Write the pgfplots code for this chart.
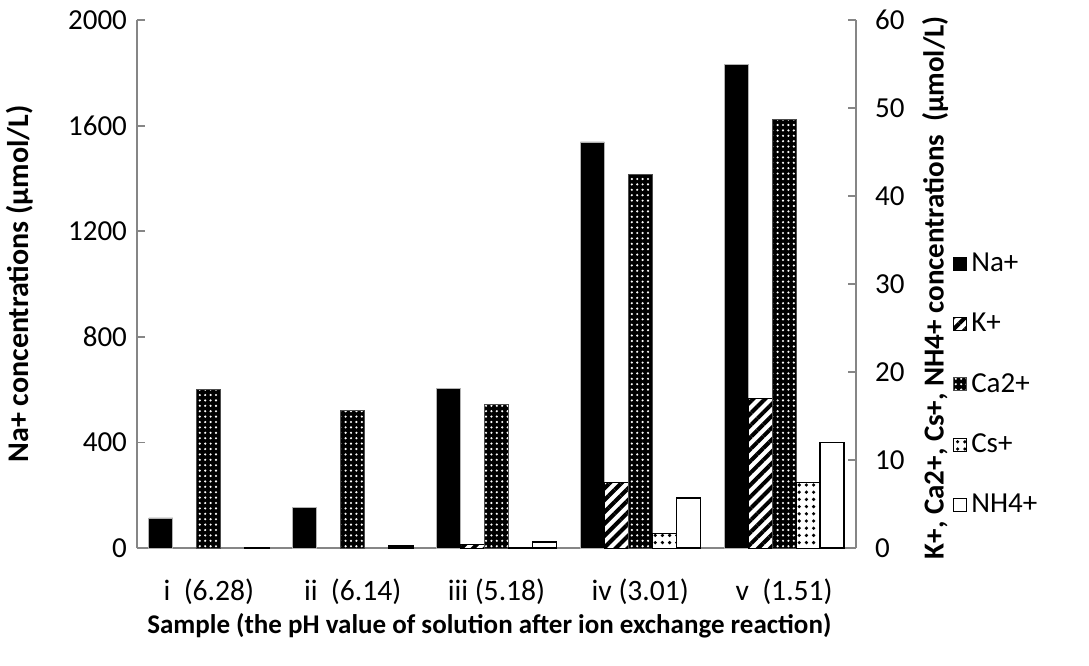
\documentclass[border=0pt]{standalone}
\usepackage{fontspec}
\setmainfont{Carlito}
\usepackage{pgfplots}
\pgfplotsset{compat=1.18}
\usetikzlibrary{patterns,patterns.meta}
\definecolor{axgray}{HTML}{868686}
\pgfplotsset{
  common/.style={
    width=359.5pt, height=264pt, scale only axis,
    xmin=-0.5, xmax=4.5, ymin=0,
    ybar, bar width=0.167,
    axis line style={axgray, line width=0.9pt},
    tick style={axgray, line width=0.9pt},
    major tick length=4pt,
    tick align=inside,
    /pgf/number format/assume math mode=true,
    tick label style={font=\fontsize{14.5}{16}\selectfont, black},
    scaled y ticks=false,
    /pgf/number format/1000 sep={},
  },
}
\begin{document}
\begin{tikzpicture}
\begin{axis}[common, name=a,
  ymax=2000, ytick={0,400,...,2000},
  axis y line*=left, axis x line*=bottom,
  xtick={0,1,2,3,4},
  xticklabels={{i\ \ (6.28)},{ii\ \ (6.14)},{iii (5.18)},{iv (3.01)},{v\ \ (1.51)}},
  xtick style={draw=none},
  xticklabel style={yshift=-12pt, font=\fontsize{14.8}{16}\selectfont},
  yticklabel style={xshift=-1.5pt},
  ylabel={Na+ concentrations (μmol/L)},
  ylabel style={at={(axis description cs:-0.163,0.5)}, anchor=center, font=\bfseries\fontsize{15}{17}\selectfont},
  xlabel={Sample (the pH value of solution after ion exchange reaction)},
  xlabel style={at={(axis description cs:0.49,-0.148)}, anchor=center, font=\bfseries\fontsize{13.5}{16}\selectfont},
]
\addplot[bar shift=-0.334, fill=black, draw=gray!60] coordinates {(0,114) (1,152) (2,606) (3,1538) (4,1831)};
\end{axis}
\begin{axis}[common,
  ymax=60, ytick={0,10,...,60},
  axis y line*=right, axis x line=none,
  yticklabel style={xshift=6pt},
  ylabel={K+, Ca2+, Cs+, NH4+ concentrations\ \ (μmol/L)},
  ylabel style={at={(axis description cs:1.11,0.493)}, anchor=center, font=\bfseries\fontsize{14.5}{16}\selectfont},
  legend cell align=left,
  legend image code/.code={\draw[#1, line width=0.5pt] (0pt,-3.2pt) rectangle (6.4pt,3.2pt);},
  legend style={draw=none, fill=none, at={(axis description cs:1.135,0.31)}, anchor=west,
    font=\fontsize{14.5}{16}\selectfont, row sep=15.3pt, inner sep=0pt,
    /tikz/every even column/.append style={column sep=2pt}},
]
\addlegendimage{fill=black, draw=black}
\addlegendentry{Na+}
\addplot[bar shift=-0.167, fill=white, draw=black, line width=0.5pt,
  postaction={pattern={Lines[angle=45,distance=4.2pt,line width=2pt]}}]
  coordinates {(2,0.45) (3,7.4) (4,17.0)};
\addlegendentry{K+}
\addplot[bar shift=0, fill=black, draw=black!70, line width=0.5pt,
  postaction={pattern={Dots[distance=2.7pt,radius=0.6pt]}, pattern color=white}]
  coordinates {(0,18.0) (1,15.6) (2,16.3) (3,42.5) (4,48.75)};
\addlegendentry{Ca2+}
\addplot[bar shift=0.167, fill=white, draw=black, line width=0.5pt,
  postaction={pattern={Dots[distance=3.6pt,radius=0.9pt]}}]
  coordinates {(2,0.1) (3,1.6) (4,7.4)};
\addlegendentry{Cs+}
\addplot[bar shift=0.334, fill=white, draw=black, line width=0.8pt]
  coordinates {(0,0.05) (1,0.25) (2,0.7) (3,5.7) (4,12.0)};
\addlegendentry{NH4+}
\end{axis}
\pgfresetboundingbox
\path ([xshift=-68.5pt,yshift=-58.5pt]a.south west) rectangle ([xshift=116.5pt,yshift=10pt]a.north east);
\end{tikzpicture}
\end{document}
